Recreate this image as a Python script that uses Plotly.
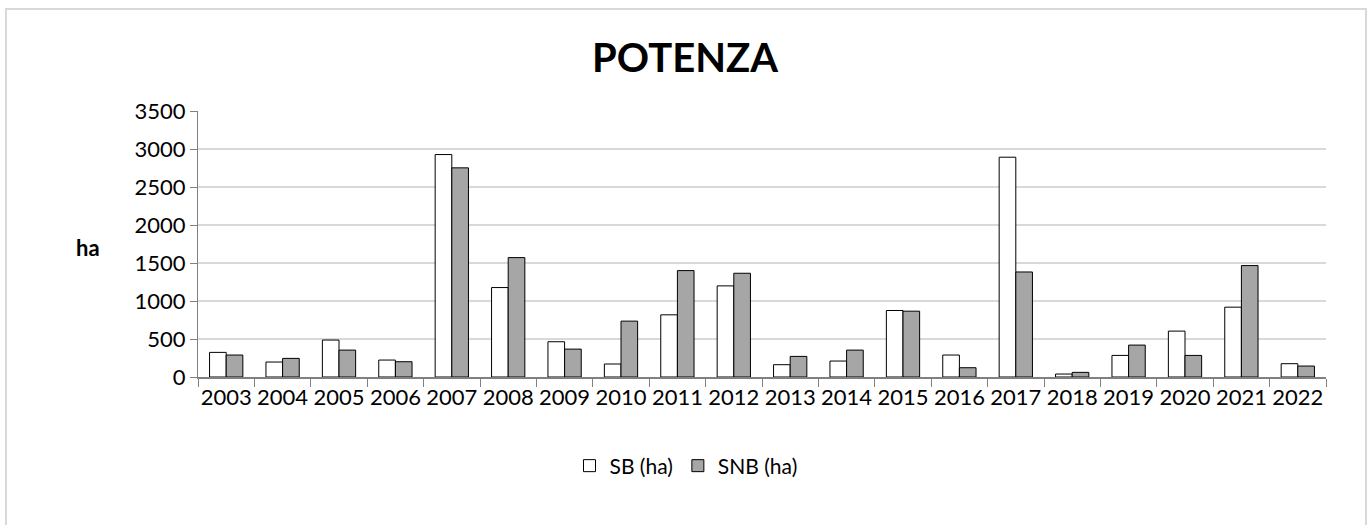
import plotly.graph_objects as go

years = ["2003","2004","2005","2006","2007","2008","2009","2010","2011","2012",
         "2013","2014","2015","2016","2017","2018","2019","2020","2021","2022"]
sb = [324, 197, 486, 223, 2927, 1177, 464, 171, 818, 1199,
      162, 210, 875, 289, 2892, 39, 284, 604, 919, 175]
snb = [289, 245, 354, 201, 2752, 1571, 367, 735, 1400, 1365,
       271, 354, 866, 122, 1382, 61, 420, 284, 1466, 144]

FONT = "Lato"
fig = go.Figure()
fig.add_bar(x=years, y=sb, name="SB (ha)", marker=dict(color="white", line=dict(color="black", width=1)))
fig.add_bar(x=years, y=snb, name="SNB (ha)", marker=dict(color="#a6a6a6", line=dict(color="black", width=1)))

L, R, T, B = 198, 44, 111, 148
W, H = 1370, 525
pw = W - L - R
ph = H - T - B

def px(x):
    return (x - L) / pw

def py(y):
    return (H - B - y) / ph

fig.update_layout(
    width=W, height=H,
    margin=dict(l=L, r=R, t=T, b=B),
    paper_bgcolor="white", plot_bgcolor="white",
    barmode="group", bargap=0.41, bargroupgap=0,
    font=dict(family=FONT, size=22, color="black"),
    title=dict(text="<b>POTENZA</b>", x=0.5, xanchor="center", y=1 - 58 / H, yanchor="middle",
               font=dict(family=FONT, size=40, color="black")),
    showlegend=True,
    legend=dict(orientation="h", x=px(686), xanchor="center", y=py(466), yanchor="middle",
                font=dict(size=21), itemwidth=30, traceorder="normal"),
    xaxis=dict(type="category", tickson="boundaries", ticks="outside", ticklen=8, tickcolor="#808080",
               showline=True, linecolor="#808080", linewidth=1.5, showgrid=False,
               tickfont=dict(size=22), tickangle=0),
    yaxis=dict(range=[0, 3500], dtick=500, ticks="outside", ticklen=7, tickcolor="#808080",
               showline=True, linecolor="#808080", linewidth=1,
               showgrid=True, gridcolor="#d9d9d9", gridwidth=1.5, zeroline=False,
               tickfont=dict(size=22)),
    shapes=[dict(type="rect", xref="paper", yref="paper",
                 x0=px(6), x1=px(1366), y0=py(530), y1=py(9),
                 line=dict(color="#d9d9d9", width=2), fillcolor="rgba(0,0,0,0)", layer="below")],
    annotations=[dict(text="<b>ha</b>", xref="paper", yref="paper", x=px(88), y=py(247),
                      xanchor="center", yanchor="middle", showarrow=False,
                      font=dict(family=FONT, size=22, color="black"))],
)

fig.write_html("out.html", config={"displayModeBar": False},
               post_script="document.body.style.margin='0';document.body.style.overflow='hidden';")
